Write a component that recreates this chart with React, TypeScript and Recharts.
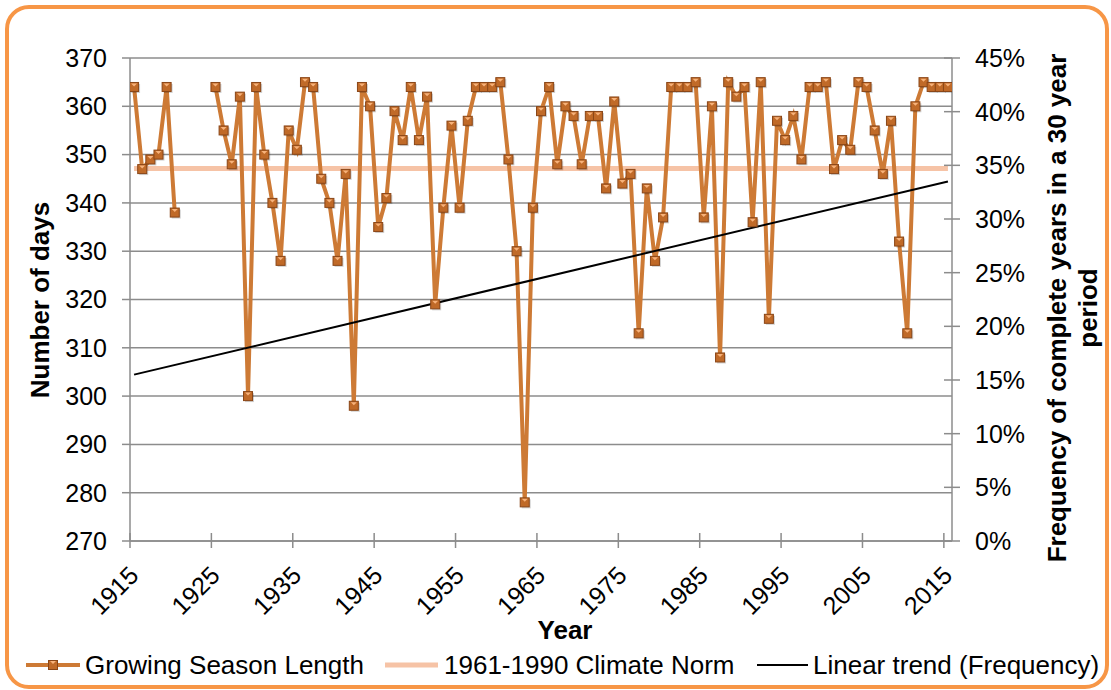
import React from 'react';
import { ComposedChart, Line, XAxis, YAxis, CartesianGrid, ReferenceLine, Legend } from 'recharts';

const FONT = '"Liberation Sans", Arial, sans-serif';
const AXIS_COLOR = '#8C8C8C';
const SERIES_COLOR = '#CD7A35';
const NORM_COLOR = '#F6C3A6';

// Categories (years)
const years: number[] = [
  1915, 1916, 1917, 1918, 1919, 1920, 1921, 1922, 1923, 1924,
  1925, 1926, 1927, 1928, 1929, 1930, 1931, 1932, 1933, 1934,
  1935, 1936, 1937, 1938, 1939, 1940, 1941, 1942, 1943, 1944,
  1945, 1946, 1947, 1948, 1949, 1950, 1951, 1952, 1953, 1954,
  1955, 1956, 1957, 1958, 1959, 1960, 1961, 1962, 1963, 1964,
  1965, 1966, 1967, 1968, 1969, 1970, 1971, 1972, 1973, 1974,
  1975, 1976, 1977, 1978, 1979, 1980, 1981, 1982, 1983, 1984,
  1985, 1986, 1987, 1988, 1989, 1990, 1991, 1992, 1993, 1994,
  1995, 1996, 1997, 1998, 1999, 2000, 2001, 2002, 2003, 2004,
  2005, 2006, 2007, 2008, 2009, 2010, 2011, 2012, 2013, 2014,
  2015,
];

// Growing season length (days); null = missing year
const growingSeason: (number | null)[] = [
  364, 347, 349, 350, 364, 338, null, null, null, null,
  364, 355, 348, 362, 300, 364, 350, 340, 328, 355,
  351, 365, 364, 345, 340, 328, 346, 298, 364, 360,
  335, 341, 359, 353, 364, 353, 362, 319, 339, 356,
  339, 357, 364, 364, 364, 365, 349, 330, 278, 339,
  359, 364, 348, 360, 358, 348, 358, 358, 343, 361,
  344, 346, 313, 343, 328, 337, 364, 364, 364, 365,
  337, 360, 308, 365, 362, 364, 336, 365, 316, 357,
  353, 358, 349, 364, 364, 365, 347, 353, 351, 365,
  364, 355, 346, 357, 332, 313, 360, 365, 364, 364,
  364,
];

// 1961-1990 climate norm (days)
const climateNorm = 347.1;
const normSpan: number[] = [1915, 2015];

// Linear trend of frequency (% of complete years in 30-year period), end points
const trendYears: number[] = [1915, 2015];
const trendValues: number[] = [15.5, 33.5];

// Axis ticks
const leftTicks: number[] = [270, 280, 290, 300, 310, 320, 330, 340, 350, 360, 370];
const rightTicks: number[] = [0, 5, 10, 15, 20, 25, 30, 35, 40, 45];
const xTickLabels: number[] = [1915, 1925, 1935, 1945, 1955, 1965, 1975, 1985, 1995, 2005, 2015];

const data = years.map((year, i) => ({ year, days: growingSeason[i] }));
const trendData = trendYears.map((year, i) => ({ year, freq: trendValues[i] }));

const SquareDot = (props: any) => {
  const { cx, cy, payload } = props;
  if (cx == null || cy == null || payload == null || payload.days == null) return null;
  const s = 9;
  return (
    <g>
      <rect x={cx - s / 2 + 1.5} y={cy - s / 2 + 1.5} width={s} height={s} fill="#000" opacity={0.18} />
      <rect x={cx - s / 2} y={cy - s / 2} width={s} height={s} fill="#C06A28" stroke="#8A4617" strokeWidth={1} />
      <polygon
        points={`${cx - 3},${cy - 3.5} ${cx + 3},${cy - 3.5} ${cx},${cy - 0.5}`}
        fill="#F7B27A"
      />
    </g>
  );
};

const XTick = (props: any) => {
  const { x, y, payload } = props;
  const label = xTickLabels[Math.round((payload.value - (xTickLabels[0] - 0.5)) / 10)];
  const ax = x + 10;
  const ay = y + 36;
  return (
    <g>
      <line x1={x} x2={x} y1={y - 8} y2={y + 7} stroke={AXIS_COLOR} strokeWidth={1.5} />
      <text
        x={ax}
        y={ay}
        textAnchor="end"
        transform={`rotate(-45 ${ax} ${ay})`}
        fontSize={25}
        fontFamily={FONT}
        fill="#000"
      >
        {label}
      </text>
    </g>
  );
};

const RightTick = (props: any) => {
  const { x, y, payload } = props;
  return (
    <g>
      <line x1={x - 8} x2={x + 8} y1={y} y2={y} stroke={AXIS_COLOR} strokeWidth={1.5} />
      <text x={x + 23} y={y} dy="0.355em" textAnchor="start" fontSize={25} fontFamily={FONT} fill="#000">
        {`${payload.value}%`}
      </text>
    </g>
  );
};

const LegendContent = () => (
  <div style={{ position: 'relative', width: 1111, height: 30, fontFamily: FONT, fontSize: 26, color: '#000' }}>
    <svg style={{ position: 'absolute', left: 0, top: 0 }} width={1111} height={30}>
      <line x1={26} x2={80} y1={15} y2={15} stroke={SERIES_COLOR} strokeWidth={4} />
      <rect x={48.5} y={10.5} width={9} height={9} fill="#C06A28" stroke="#8A4617" strokeWidth={1} />
      <polygon points="50,11 56,11 53,14" fill="#F7B27A" />
      <line x1={385} x2={438} y1={15} y2={15} stroke={NORM_COLOR} strokeWidth={5} />
      <line x1={757} x2={808} y1={15} y2={15} stroke="#000" strokeWidth={2} />
    </svg>
    <span style={{ position: 'absolute', left: 85, top: 0, lineHeight: '30px', whiteSpace: 'nowrap' }}>
      Growing Season Length
    </span>
    <span style={{ position: 'absolute', left: 444, top: 0, lineHeight: '30px', whiteSpace: 'nowrap' }}>
      1961-1990 Climate Norm
    </span>
    <span style={{ position: 'absolute', left: 813, top: 0, lineHeight: '30px', whiteSpace: 'nowrap' }}>
      Linear trend (Frequency)
    </span>
  </div>
);

const LeftLabel = () => (
  <text
    x={49}
    y={300}
    transform="rotate(-90 49 300)"
    textAnchor="middle"
    fontSize={26}
    fontWeight="bold"
    fontFamily={FONT}
    fill="#000"
  >
    Number of days
  </text>
);

const RightAxisLabel = () => (
  <g transform="translate(1066 308) rotate(-90)">
    <text x={0} y={0} textAnchor="middle" fontSize={26} fontWeight="bold" fontFamily={FONT} fill="#000">
      <tspan x={0} dy={0}>Frequency of complete years in a 30 year</tspan>
      <tspan x={0} dy={31}>period</tspan>
    </text>
  </g>
);

const XLabel = () => (
  <text x={565} y={639} textAnchor="middle" fontSize={26} fontWeight="bold" fontFamily={FONT} fill="#000">
    Year
  </text>
);

export default function App() {
  const xTicks = xTickLabels.map((y) => y - 0.5);
  return (
    <div style={{ position: 'absolute', left: 0, top: 0, width: 1111, height: 690, background: '#fff', overflow: 'hidden' }}>
      <div
        style={{
          position: 'absolute',
          left: 5,
          top: 5,
          width: 1104,
          height: 684,
          boxSizing: 'border-box',
          border: '4px solid #F79646',
          borderRadius: 24,
        }}
      />
      <div style={{ position: 'absolute', left: 0, top: 0 }}>
        <ComposedChart
          width={1111}
          height={690}
          data={data}
          margin={{ top: 58, right: 0, bottom: 10, left: 0 }}
          style={{ fontFamily: FONT }}
        >
          <CartesianGrid yAxisId="left" vertical={false} stroke={AXIS_COLOR} strokeWidth={1.5} />
          <XAxis
            dataKey="year"
            type="number"
            domain={[xTickLabels[0] - 0.5, xTickLabels[xTickLabels.length - 1] + 0.5]}
            ticks={xTicks}
            interval={0}
            height={109}
            tickSize={0}
            tickMargin={0}
            tickLine={false}
            axisLine={{ stroke: AXIS_COLOR, strokeWidth: 1.5 }}
            tick={<XTick />}
            allowDataOverflow
            label={<XLabel />}
          />
          <YAxis
            yAxisId="left"
            orientation="left"
            width={130}
            domain={[270, 370]}
            ticks={leftTicks}
            interval={0}
            tickSize={8}
            tickMargin={15}
            tickLine={{ stroke: AXIS_COLOR, strokeWidth: 1.5 }}
            axisLine={{ stroke: AXIS_COLOR, strokeWidth: 1.5 }}
            tick={{ fontSize: 25, fill: '#000', fontFamily: FONT }}
            label={<LeftLabel />}
          />
          <YAxis
            yAxisId="right"
            orientation="right"
            width={159}
            domain={[0, 45]}
            ticks={rightTicks}
            interval={0}
            tickSize={0}
            tickMargin={0}
            tickLine={false}
            axisLine={{ stroke: AXIS_COLOR, strokeWidth: 1.5 }}
            tick={<RightTick />}
            label={<RightAxisLabel />}
          />
          <ReferenceLine
            yAxisId="left"
            segment={[
              { x: normSpan[0], y: climateNorm },
              { x: normSpan[1], y: climateNorm },
            ]}
            stroke={NORM_COLOR}
            strokeWidth={5}
            ifOverflow="visible"
          />
          <Line
            yAxisId="left"
            dataKey="days"
            stroke={SERIES_COLOR}
            strokeWidth={4}
            dot={<SquareDot />}
            activeDot={false}
            connectNulls={false}
            isAnimationActive={false}
            legendType="line"
            name="Growing Season Length"
          />
          <Line
            yAxisId="right"
            data={trendData}
            dataKey="freq"
            stroke="#000"
            strokeWidth={2}
            dot={false}
            activeDot={false}
            isAnimationActive={false}
            name="Linear trend (Frequency)"
          />
          <Legend
            verticalAlign="bottom"
            align="left"
            content={<LegendContent />}
            wrapperStyle={{ left: 0, bottom: 10, width: 1111, height: 30 }}
          />
        </ComposedChart>
      </div>
    </div>
  );
}
